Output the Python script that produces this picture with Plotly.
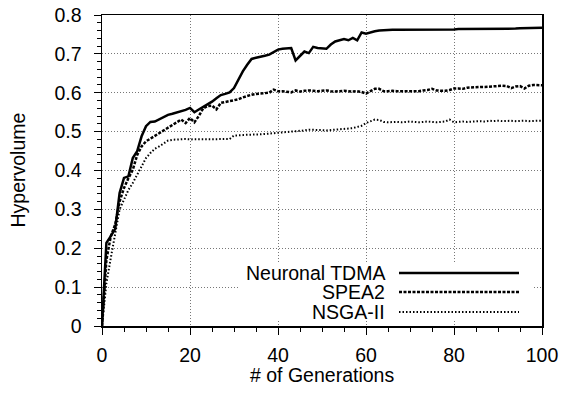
import plotly.graph_objects as go

generations = list(range(0, 101))

neuronal_tdma = [
    0.000, 0.214, 0.231, 0.250, 0.342, 0.381, 0.385, 0.432, 0.450, 0.488,
    0.514, 0.525, 0.526, 0.532, 0.538, 0.543, 0.546, 0.549, 0.553, 0.556,
    0.561, 0.550, 0.557, 0.563, 0.569, 0.577, 0.586, 0.594, 0.597, 0.601,
    0.612, 0.635, 0.655, 0.672, 0.687, 0.690, 0.692, 0.695, 0.698, 0.705,
    0.711, 0.713, 0.714, 0.715, 0.683, 0.694, 0.706, 0.702, 0.718, 0.715,
    0.714, 0.713, 0.724, 0.732, 0.735, 0.738, 0.735, 0.741, 0.735, 0.755,
    0.752, 0.756, 0.758, 0.760, 0.761, 0.761, 0.762, 0.762, 0.762, 0.762,
    0.762, 0.762, 0.762, 0.763, 0.763, 0.763, 0.763, 0.763, 0.763, 0.763,
    0.763, 0.764, 0.764, 0.764, 0.764, 0.764, 0.764, 0.764, 0.764, 0.765,
    0.765, 0.765, 0.765, 0.765, 0.765, 0.766, 0.766, 0.766, 0.766, 0.767,
    0.767,
]

spea2 = [
    0.000, 0.170, 0.231, 0.261, 0.320, 0.355, 0.380, 0.402, 0.440, 0.462,
    0.475, 0.482, 0.487, 0.495, 0.503, 0.510, 0.517, 0.524, 0.531, 0.522,
    0.535, 0.524, 0.540, 0.560, 0.566, 0.567, 0.557, 0.574, 0.576, 0.578,
    0.580, 0.583, 0.588, 0.592, 0.595, 0.597, 0.598, 0.599, 0.600, 0.608,
    0.604, 0.604, 0.603, 0.601, 0.606, 0.603, 0.605, 0.606, 0.605, 0.604,
    0.605, 0.606, 0.604, 0.603, 0.604, 0.605, 0.604, 0.603, 0.604, 0.602,
    0.598, 0.604, 0.610, 0.610, 0.604, 0.604, 0.605, 0.604, 0.604, 0.605,
    0.604, 0.605, 0.604, 0.606, 0.607, 0.610, 0.606, 0.605, 0.605, 0.607,
    0.611, 0.611, 0.610, 0.613, 0.614, 0.615, 0.615, 0.615, 0.616, 0.616,
    0.617, 0.618, 0.617, 0.612, 0.616, 0.617, 0.611, 0.618, 0.620, 0.619,
    0.619,
]

nsga2 = [
    0.000, 0.110, 0.175, 0.240, 0.300, 0.325, 0.350, 0.368, 0.390, 0.413,
    0.432, 0.445, 0.456, 0.462, 0.470, 0.477, 0.479, 0.480, 0.480, 0.481,
    0.480, 0.480, 0.481, 0.480, 0.480, 0.481, 0.480, 0.480, 0.481, 0.481,
    0.490, 0.490, 0.491, 0.492, 0.492, 0.493, 0.493, 0.494, 0.495, 0.496,
    0.497, 0.497, 0.498, 0.499, 0.500, 0.501, 0.503, 0.505, 0.505, 0.504,
    0.504, 0.503, 0.504, 0.505, 0.505, 0.506, 0.507, 0.509, 0.512, 0.515,
    0.522, 0.526, 0.531, 0.530, 0.525, 0.524, 0.525, 0.525, 0.524, 0.525,
    0.526, 0.525, 0.524, 0.525, 0.526, 0.525, 0.524, 0.525, 0.526, 0.531,
    0.524, 0.525, 0.526, 0.525, 0.526, 0.526, 0.527, 0.526, 0.528, 0.527,
    0.528, 0.527, 0.528, 0.528, 0.527, 0.528, 0.528, 0.527, 0.528, 0.528,
    0.528,
]

series_names = ["Neuronal TDMA", "SPEA2", "NSGA-II"]
x_ticks = [0, 20, 40, 60, 80, 100]
y_ticks = [0, 0.1, 0.2, 0.3, 0.4, 0.5, 0.6, 0.7, 0.8]

FONT = "Liberation Sans, Arial, Helvetica, sans-serif"
FS = 19.5

styles = [
    dict(color="black", width=2.5, dash="solid"),
    dict(color="black", width=2.5, dash="3px,1.5px"),
    dict(color="black", width=2.0, dash="1.5px,2px"),
]

fig = go.Figure()
for name, ys, st in zip(series_names, [neuronal_tdma, spea2, nsga2], styles):
    fig.add_trace(go.Scatter(x=generations, y=ys, mode="lines", name=name,
                             line=st, showlegend=False, hoverinfo="skip"))

# Body margin is removed by a post script, so the figure fills the window.
W, H = 563, 394
L, T = 102, 15
pw, ph = 440, 311
R = W - L - pw
B = H - T - ph

def px(xw):
    return (xw - L) / pw

def py(yw):
    return (H - B - yw) / ph

shapes = [dict(type="rect", xref="paper", yref="paper",
               x0=px(238), x1=px(533), y0=py(321), y1=py(262),
               fillcolor="white", line=dict(width=0), layer="above")]
annotations = []
rows = [273, 292, 312]
for name, st, r in zip(series_names, styles, rows):
    shapes.append(dict(type="line", xref="paper", yref="paper",
                       x0=px(399), x1=px(519), y0=py(r), y1=py(r),
                       line=st, layer="above"))
    annotations.append(dict(text=name, xref="paper", yref="paper",
                            x=px(387), y=py(r), xanchor="right", yanchor="middle",
                            showarrow=False, font=dict(family=FONT, size=FS, color="black")))

annotations.append(dict(text="Hypervolume", xref="paper", yref="paper",
                        x=px(17), y=0.5, textangle=-90, xanchor="center", yanchor="middle",
                        showarrow=False, font=dict(family=FONT, size=FS, color="black")))
annotations.append(dict(text="# of Generations", xref="paper", yref="paper",
                        x=0.5, y=py(375), xanchor="center", yanchor="middle",
                        showarrow=False, font=dict(family=FONT, size=FS, color="black")))

axis_common = dict(
    showline=True, linecolor="black", linewidth=1.5, mirror=True,
    ticks="outside", ticklen=7, tickwidth=1, tickcolor="black",
    showgrid=True, gridcolor="#777777", gridwidth=1, griddash="1px,2px",
    zeroline=False, automargin=False, ticklabeloverflow="allow",
    tickfont=dict(family=FONT, size=FS, color="black"),
)

fig.update_xaxes(range=[0, 100], tickvals=x_ticks, ticktext=[str(v) for v in x_ticks],
                 minor=dict(dtick=5, ticks="outside", ticklen=4, tickcolor="black", showgrid=False),
                 ticklabelstandoff=4, **axis_common)
fig.update_yaxes(range=[0, 0.8], tickvals=y_ticks, ticktext=["0" if v == 0 else f"{v:.1f}" for v in y_ticks],
                 minor=dict(dtick=0.02, ticks="outside", ticklen=4, tickcolor="black", showgrid=False),
                 ticklabelstandoff=8, **axis_common)

fig.update_layout(
    width=W, height=H,
    margin=dict(l=L, r=R, t=T, b=B, pad=0),
    paper_bgcolor="white", plot_bgcolor="white",
    font=dict(family=FONT, size=FS, color="black"),
    shapes=shapes, annotations=annotations,
    showlegend=False, hovermode=False,
)

fig.write_html("out.html", config={"displayModeBar": False, "staticPlot": True},
               post_script="document.body.style.margin='0';document.body.style.overflow='hidden';")
